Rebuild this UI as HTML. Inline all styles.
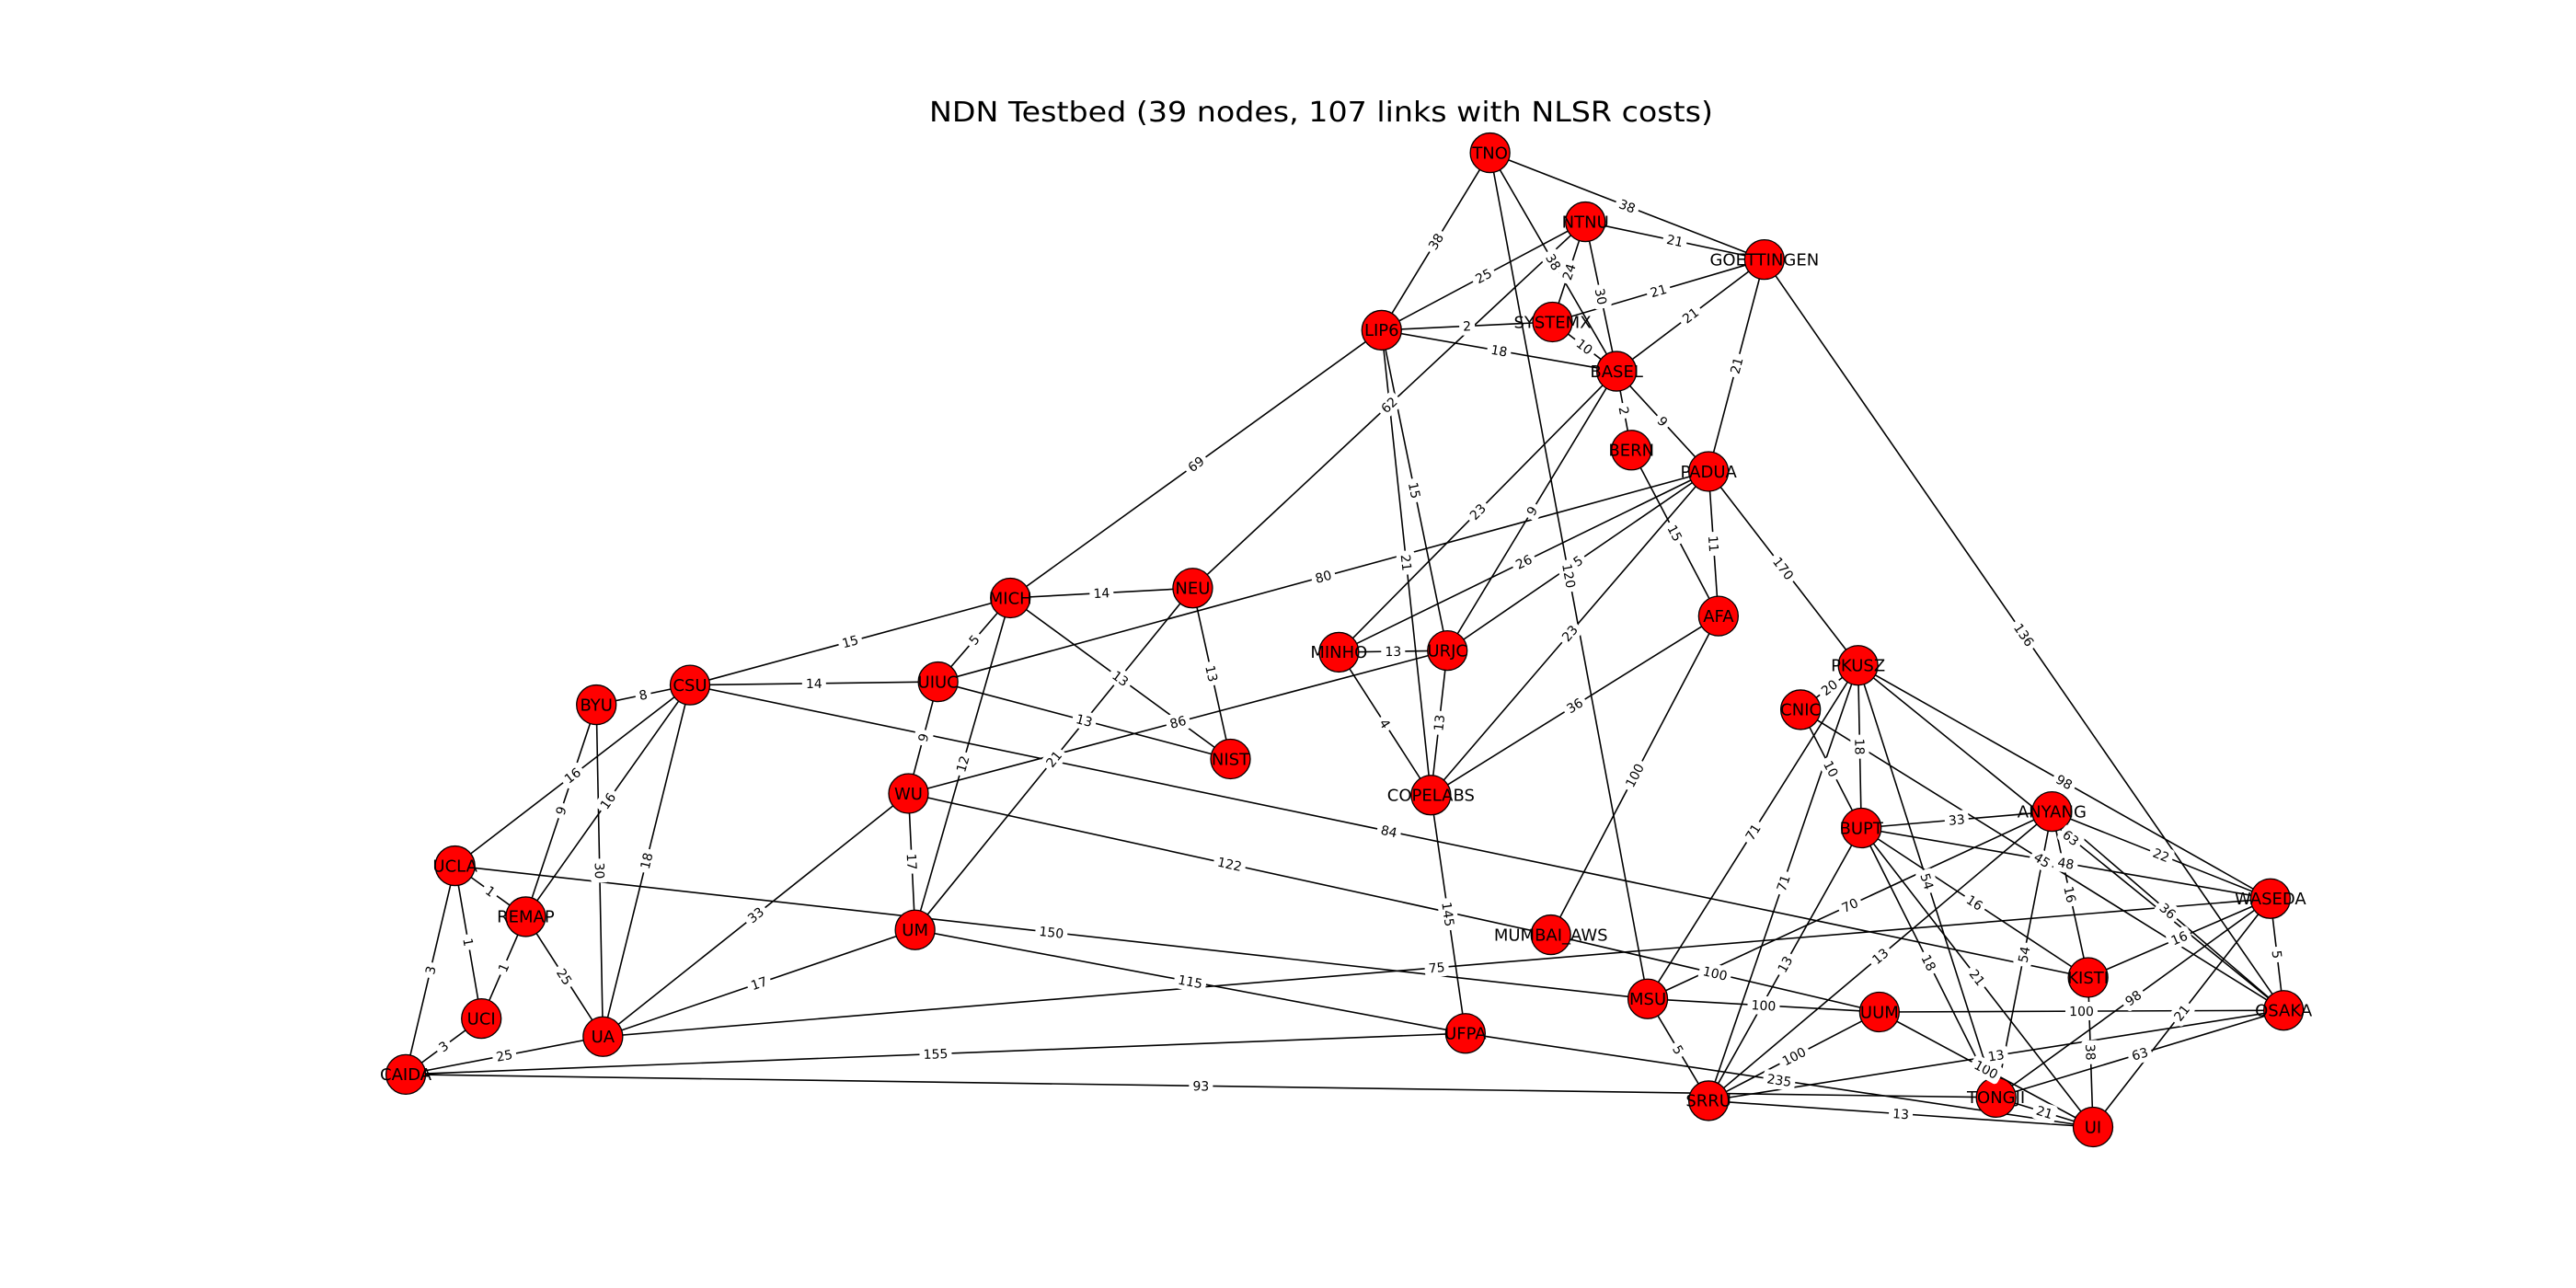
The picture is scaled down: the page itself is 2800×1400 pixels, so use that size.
<!DOCTYPE html>
<html><head><meta charset="utf-8"><title>NDN Testbed</title>
<style>html,body{margin:0;padding:0;background:#fff}svg{display:block}</style></head>
<body>
<svg id="chart" xmlns="http://www.w3.org/2000/svg" width="2800" height="1400" viewBox="0 0 2800 1400">
<rect width="2800" height="1400" fill="#fff"/>
<text x="1436" y="132" text-anchor="middle" font-family="DejaVu Sans, Liberation Sans, sans-serif" font-size="30" textLength="852" lengthAdjust="spacingAndGlyphs" fill="#000">NDN Testbed (39 nodes, 107 links with NLSR costs)</text>
<g id="edges"></g><g id="nodes"></g><g id="elabels"></g>
</svg>
<script>
const nodeNames = ["TNO","NTNU","GOETTINGEN","LIP6","SYSTEMX","BASEL","BERN","PADUA","MICH","NEU","MINHO","URJC","AFA","BYU","CSU","UIUC","NIST","PKUSZ","CNIC","WU","COPELABS","BUPT","ANYANG","UCLA","REMAP","UM","MUMBAI_AWS","WASEDA","KISTI","MSU","UUM","OSAKA","UCI","UA","UFPA","CAIDA","SRRU","TONGJI","UI"];
const nodeX = [907,965,1074,841,945,984,993,1040,615,726,815,881,1046,363,420,571,749,1131,1096,553,871,1133,1249,277,320,557,944,1382,1271,1003,1144,1390,293,367,892,247,1040,1215,1274];
const nodeY = [93,135,158,201,196,226,274,287,364,358,397,396,375,429,417,415,462,405,432,483,484,504,494,527,558,566,569,547,595,608,616,615,620,631,629,654,670,668,686];
const edgeFrom = ["TNO","TNO","TNO","TNO","NTNU","NTNU","NTNU","NTNU","NTNU","LIP6","LIP6","SYSTEMX","SYSTEMX","GOETTINGEN","GOETTINGEN","GOETTINGEN","LIP6","LIP6","LIP6","BASEL","BASEL","BASEL","BASEL","BERN","PADUA","PADUA","UIUC","MINHO","URJC","COPELABS","WU","MICH","MICH","MICH","MICH","MICH","NEU","NEU","UIUC","UIUC","CSU","CSU","CSU","CSU","CSU","CSU","BYU","BYU","UCLA","UCLA","UCLA","UCLA","UM","UM","UM","UA","UA","UA","UCI","UCI","CAIDA","CAIDA","UA","WU","MUMBAI_AWS","AFA","AFA","MINHO","MINHO","URJC","COPELABS","MSU","MSU","MSU","MSU","SRRU","UUM","UUM","UUM","SRRU","SRRU","UFPA","SRRU","SRRU","TONGJI","WASEDA","OSAKA","UI","WASEDA","WASEDA","WASEDA","WASEDA","WASEDA","PKUSZ","ANYANG","ANYANG","BUPT","CNIC","BUPT","PKUSZ","ANYANG","BUPT","BUPT","TONGJI","PKUSZ","CNIC","CNIC"];
const edgeTo = ["LIP6","GOETTINGEN","BASEL","MSU","GOETTINGEN","LIP6","SYSTEMX","BASEL","NEU","SYSTEMX","BASEL","BASEL","GOETTINGEN","BASEL","PADUA","OSAKA","MICH","COPELABS","URJC","BERN","PADUA","MINHO","URJC","AFA","AFA","PKUSZ","PADUA","PADUA","PADUA","PADUA","URJC","NEU","CSU","UIUC","NIST","UM","NIST","UM","NIST","WU","UIUC","BYU","UCLA","REMAP","UA","KISTI","REMAP","UA","REMAP","UCI","CAIDA","MSU","UFPA","WU","UA","WU","REMAP","CAIDA","REMAP","CAIDA","UFPA","TONGJI","WASEDA","MUMBAI_AWS","UUM","MUMBAI_AWS","COPELABS","URJC","COPELABS","COPELABS","UFPA","SRRU","UUM","ANYANG","PKUSZ","PKUSZ","SRRU","OSAKA","UI","BUPT","ANYANG","UI","UI","OSAKA","WASEDA","UI","TONGJI","KISTI","OSAKA","KISTI","ANYANG","PKUSZ","BUPT","OSAKA","OSAKA","KISTI","KISTI","OSAKA","ANYANG","TONGJI","TONGJI","TONGJI","UI","UI","BUPT","BUPT","PKUSZ"];
const edgeCost = [38,38,38,120,21,25,24,30,62,2,18,10,21,21,21,136,69,21,15,2,9,23,9,15,11,170,80,26,5,23,86,14,15,5,13,12,13,21,13,9,14,8,16,16,18,84,9,30,1,1,3,150,115,17,17,33,25,25,1,3,155,93,75,122,100,100,36,13,4,13,145,5,100,70,71,71,100,100,100,13,13,235,13,13,98,21,63,38,5,16,22,98,48,63,36,16,16,45,33,54,54,18,21,21,18,10,20];

const NS = "http://www.w3.org/2000/svg";
const S = 2800/1568;
function px(name){ return nodeX[nodeNames.indexOf(name)] * S; }
function py(name){ return nodeY[nodeNames.indexOf(name)] * S; }
const FONT = "DejaVu Sans, Liberation Sans, sans-serif";
const gE = document.getElementById("edges"), gN = document.getElementById("nodes"), gL = document.getElementById("elabels");

for (let i = 0; i < edgeFrom.length; i++) {
  const x1 = px(edgeFrom[i]), y1 = py(edgeFrom[i]), x2 = px(edgeTo[i]), y2 = py(edgeTo[i]);
  const ln = document.createElementNS(NS, "line");
  ln.setAttribute("x1", x1); ln.setAttribute("y1", y1); ln.setAttribute("x2", x2); ln.setAttribute("y2", y2);
  ln.setAttribute("stroke", "#000"); ln.setAttribute("stroke-width", "1.6");
  
  
  gE.appendChild(ln);

  const mx = (x1 + x2) / 2, my = (y1 + y2) / 2;
  let ang = Math.atan2(y2 - y1, x2 - x1) * 180 / Math.PI;
  if (ang > 90) ang -= 180; if (ang < -90) ang += 180;
  const g = document.createElementNS(NS, "g");
  g.setAttribute("transform", "translate(" + mx + "," + my + ") rotate(" + ang + ")");
  
  
  const txt = String(edgeCost[i]);
  const w = txt.length * 9 + 8;
  const r = document.createElementNS(NS, "rect");
  r.setAttribute("x", -w / 2); r.setAttribute("y", -10); r.setAttribute("width", w); r.setAttribute("height", 20);
  r.setAttribute("rx", 4); r.setAttribute("fill", "#fff");
  g.appendChild(r);
  const t = document.createElementNS(NS, "text");
  t.setAttribute("x", 0); t.setAttribute("y", 5); t.setAttribute("text-anchor", "middle");
  t.setAttribute("font-family", FONT); t.setAttribute("font-size", "14"); t.setAttribute("fill", "#000");
  t.textContent = txt;
  g.appendChild(t);
  gL.appendChild(g);
}

for (let i = 0; i < nodeNames.length; i++) {
  const cx = nodeX[i] * S, cy = nodeY[i] * S;
  const c = document.createElementNS(NS, "circle");
  c.setAttribute("cx", cx); c.setAttribute("cy", cy); c.setAttribute("r", 21.5);
  c.setAttribute("fill", "#ff0000"); c.setAttribute("stroke", "#000"); c.setAttribute("stroke-width", "1.3");
  
  
  gN.appendChild(c);
  const t = document.createElementNS(NS, "text");
  t.setAttribute("x", cx); t.setAttribute("y", cy + 6.3); t.setAttribute("text-anchor", "middle");
  t.setAttribute("font-family", FONT); t.setAttribute("font-size", "18"); t.setAttribute("fill", "#000");
  t.textContent = nodeNames[i];
  
  
  gN.appendChild(t);
}
</script>
</body></html>
